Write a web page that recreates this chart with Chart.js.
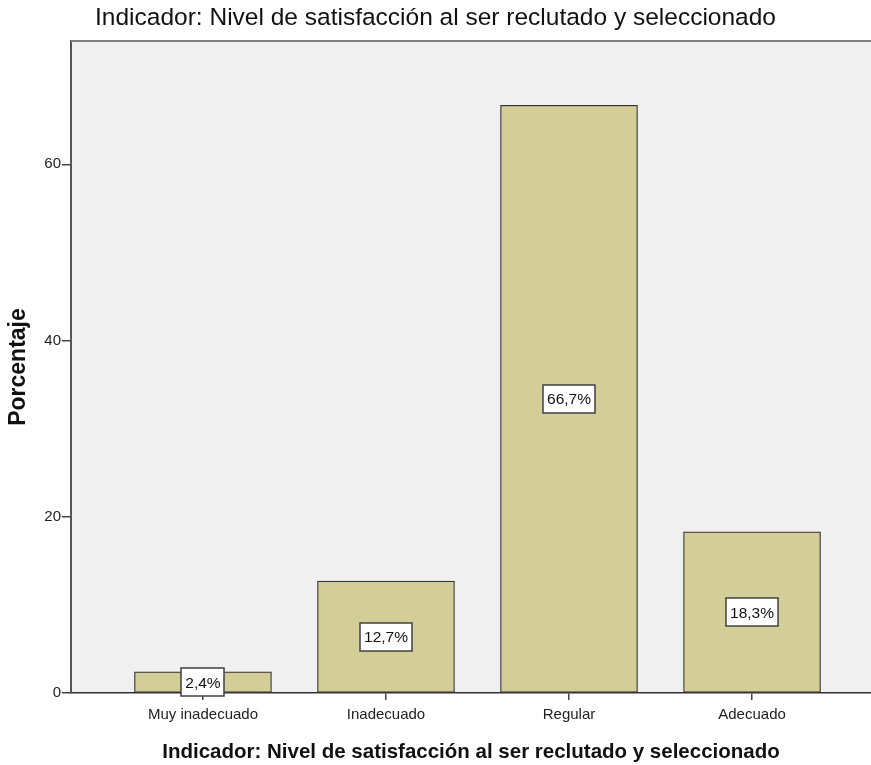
<!DOCTYPE html>
<html>
<head>
<meta charset="utf-8">
<script src="https://cdn.jsdelivr.net/npm/chart.js@4.4.1/dist/chart.umd.min.js"></script>
<style>
  html, body { margin: 0; padding: 0; background: #fff; overflow: hidden; }
  #wrap { width: 871px; height: 765px; }
</style>
</head>
<body>
<div id="wrap"><canvas id="c" width="871" height="765"></canvas></div>
<script>
const chartTitle = "Indicador: Nivel de satisfacción al ser reclutado y seleccionado";
const xAxisTitle = "Indicador: Nivel de satisfacción al ser reclutado y seleccionado";
const yAxisTitle = "Porcentaje";
const categories = ["Muy inadecuado", "Inadecuado", "Regular", "Adecuado"];
const percentages = [2.4, 12.7, 66.7, 18.3];
const valueLabels = ["2,4%", "12,7%", "66,7%", "18,3%"];
const yTicks = [0, 20, 40, 60];

const FONT = "'Liberation Sans', Arial, sans-serif";

const bgPlugin = {
  id: 'plotBg',
  beforeDraw(chart) {
    const { ctx, chartArea: a } = chart;
    ctx.save();
    ctx.fillStyle = '#f0f0f0';
    ctx.fillRect(a.left, a.top, a.right - a.left, a.bottom - a.top);
    ctx.restore();
  },
  afterDraw(chart) {
    const { ctx, chartArea: a } = chart;
    ctx.save();
    ctx.strokeStyle = '#808080';
    ctx.lineWidth = 2;
    ctx.beginPath();
    ctx.moveTo(a.left, a.top);
    ctx.lineTo(a.right, a.top);
    ctx.stroke();
    // value boxes
    const meta = chart.getDatasetMeta(0);
    const ys = chart.scales.y;
    ctx.font = '15.5px ' + FONT;
    ctx.textAlign = 'center';
    ctx.textBaseline = 'middle';
    meta.data.forEach((bar, i) => {
      const cx = bar.x;
      const cy = ys.getPixelForValue(percentages[i] / 2);
      const tw = ctx.measureText(valueLabels[i]).width;
      const w = Math.round(tw + 8), h = 28;
      const x0 = Math.round(cx - w / 2), y0 = Math.round(cy - h / 2);
      ctx.fillStyle = '#ffffff';
      ctx.fillRect(x0, y0, w, h);
      ctx.strokeStyle = '#404040';
      ctx.lineWidth = 1.5;
      ctx.strokeRect(x0, y0, w, h);
      ctx.fillStyle = '#111';
      ctx.fillText(valueLabels[i], cx, cy + 1);
    });
    ctx.restore();
  }
};

new Chart(document.getElementById('c'), {
  type: 'bar',
  data: {
    datasets: [{
      data: percentages.map((v, i) => ({ x: i, y: v })),
      backgroundColor: '#d3ce97',
      borderColor: '#333333',
      borderWidth: 1.2,
      barThickness: 137,
      borderSkipped: false
    }]
  },
  options: {
    responsive: false,
    animation: false,
    devicePixelRatio: 1,
    layout: { padding: { left: 0, right: 0, top: 0, bottom: 0 } },
    plugins: {
      legend: { display: false },
      tooltip: { enabled: false },
      title: {
        display: true,
        text: chartTitle,
        color: '#111',
        font: { family: FONT, size: 24.5, weight: 'normal', lineHeight: 1.2 },
        padding: { top: 4, bottom: 7.6 }
      }
    },
    scales: {
      x: {
        type: 'linear',
        offset: false,
        min: -0.721,
        max: 3.65,
        afterBuildTicks(s) { s.ticks = categories.map((c, i) => ({ value: i })); },
        afterFit(s) { s.height = 72; },
        ticks: {
          callback: (v) => categories[v] ?? '',
          color: '#222',
          font: { family: FONT, size: 15 },
          padding: 6,
          maxRotation: 0,
          autoSkip: false
        },
        grid: { offset: false, drawOnChartArea: false, drawTicks: true, tickLength: 7, color: '#444', lineWidth: 1.5 },
        border: { display: true, color: '#333', width: 1.5 },
        title: {
          display: true,
          text: xAxisTitle,
          color: '#111',
          font: { family: FONT, size: 20.5, weight: 'bold', lineHeight: 1.2 },
          padding: { top: 4, bottom: 0 }
        }
      },
      y: {
        min: 0,
        max: 74,
        afterBuildTicks(s) { s.ticks = yTicks.map(v => ({ value: v })); },
        afterFit(s) { s.width = 71; },
        ticks: {
          color: '#222',
          font: { family: FONT, size: 15 },
          padding: 1
        },
        grid: { drawOnChartArea: false, drawTicks: true, tickLength: 9, color: '#444', lineWidth: 1.5 },
        border: { display: true, color: '#555', width: 2 },
        title: {
          display: true,
          text: yAxisTitle,
          color: '#111',
          font: { family: FONT, size: 23, weight: 'bold', lineHeight: 1.2 },
          padding: { top: 5, bottom: 0 }
        }
      }
    }
  },
  plugins: [bgPlugin]
});
</script>
</body>
</html>
